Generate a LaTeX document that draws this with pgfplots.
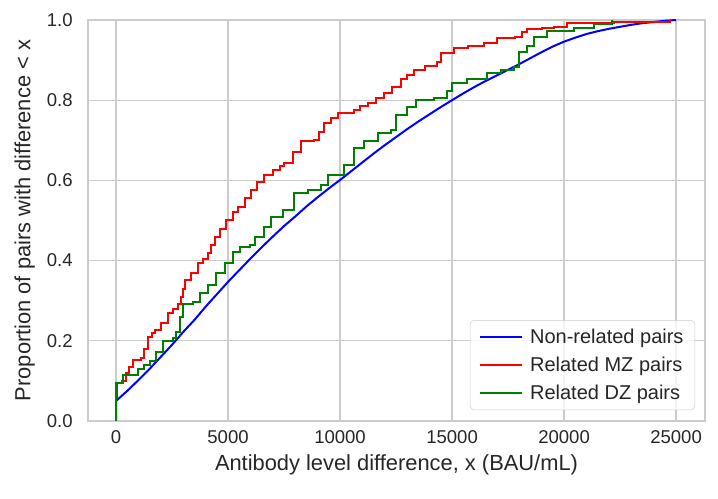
\documentclass[border=0pt]{standalone}
\usepackage{fontspec}
\setmainfont{Liberation Sans}
\usepackage{pgfplots}
\pgfplotsset{compat=1.18}

\definecolor{txt}{HTML}{262626}
\definecolor{gridc}{HTML}{CCCCCC}

\begin{document}
\begin{tikzpicture}
\useasboundingbox (-66pt,-58.5pt) rectangle (472.5pt,315.75pt);
\begin{axis}[
    scale only axis,
    width=462.75pt, height=300.75pt,
    xmin=-1250, xmax=26290,
    ymin=0, ymax=1,
    xtick={0,5000,10000,15000,20000,25000},
    ytick={0,0.2,0.4,0.6,0.8,1.0},
    scaled ticks=false,
    xticklabel style={/pgf/number format/1000 sep={}},
    yticklabel style={/pgf/number format/fixed, /pgf/number format/precision=1, /pgf/number format/fixed zerofill},
    /pgf/number format/assume math mode=true,
    major tick length=0pt,
    tick label style={font=\fontsize{13.9}{16}\selectfont, color=txt},
    xticklabel style={yshift=-4pt},
    yticklabel style={xshift=-8pt},
    label style={font=\fontsize{16.4}{19}\selectfont, color=txt},
    xlabel={Antibody level difference, x (BAU/mL)},
    ylabel={Proportion of pairs with difference < x},
    xlabel style={yshift=-1pt},
    ylabel style={yshift=2pt},
    xmajorgrids, ymajorgrids,
    grid style={gridc, line width=1pt},
    axis line style={gridc, line width=1pt},
    legend cell align=left,
    legend style={at={(0.984,0.027)}, anchor=south east, draw=gridc, rounded corners=3pt,
        fill=white, fill opacity=0.8, text opacity=1, text=txt,
        font=\fontsize{15}{18}\selectfont, row sep=4.5pt, inner xsep=6.5pt, inner ysep=4.5pt,
        /tikz/every odd column/.append style={column sep=3.5pt}},
    legend image code/.code={\draw[#1, sharp plot] (0pt,0pt) -- (31.5pt,0pt);},
]
% Non-related pairs
\addplot[blue, line width=1.5pt, sharp plot] coordinates {
(0,0) (0,0.05) (500,0.075) (1000,0.102) (1500,0.13) (2000,0.16) (2500,0.19) (3000,0.222)
(3500,0.252) (4000,0.285) (4500,0.316) (5000,0.347) (5500,0.376) (6000,0.405) (6500,0.433)
(7000,0.46) (7500,0.486) (8000,0.51) (8500,0.535) (9000,0.558) (9500,0.58) (10000,0.601)
(10500,0.623) (11000,0.645) (11500,0.667) (12000,0.688) (12500,0.708) (13000,0.728)
(13500,0.747) (14000,0.765) (14500,0.783) (15000,0.80) (15500,0.817) (16000,0.833)
(16500,0.848) (17000,0.862) (17500,0.876) (18000,0.89) (18500,0.905) (19000,0.92)
(19500,0.934) (20000,0.946) (20500,0.956) (21000,0.965) (21500,0.972) (22000,0.978)
(22500,0.983) (23000,0.988) (23500,0.992) (24000,0.995) (24500,0.998) (25000,1.0)
};
% Related MZ pairs
\addplot[red, line width=1.5pt, const plot mark left] coordinates {
(0,0) (0,0.06) (50,0.094) (250,0.10) (467,0.119) (600,0.135) (764,0.152) (1136,0.156)
(1250,0.18) (1433,0.21) (1600,0.22) (1729,0.227) (2000,0.245) (2323,0.269) (2550,0.28)
(2768,0.293) (2900,0.31) (3000,0.33) (3065,0.352) (3350,0.37) (3659,0.393) (3900,0.405) (4104,0.418)
(4250,0.44) (4400,0.46) (4650,0.48) (4920,0.501) (5200,0.52) (5440,0.534) (5750,0.555)
(6033,0.576) (6300,0.595) (6627,0.613) (7000,0.625) (7300,0.635) (7517,0.643) (7900,0.67)
(8259,0.697) (8853,0.70) (9050,0.72) (9298,0.742) (9600,0.755) (9892,0.767) (10634,0.776)
(10900,0.785) (11228,0.792) (11600,0.805) (11970,0.817) (12300,0.832) (12712,0.852)
(13000,0.862) (13304,0.875) (13800,0.885) (14343,0.896) (14491,0.917) (15085,0.929)
(15700,0.935) (16420,0.942) (17014,0.954) (17830,0.958) (18100,0.97) (18350,0.977)
(19000,0.98) (19537,0.983) (20131,0.992) (22209,0.995) (24732,1.0)
};
% Related DZ pairs
\addplot[green!50!black, line width=1.5pt, const plot mark left] coordinates {
(0,0) (0,0.094) (300,0.115) (987,0.13) (1250,0.14) (1500,0.15) (1803,0.173) (2100,0.20)
(2545,0.207) (2700,0.222) (2850,0.26) (2990,0.293) (3436,0.297) (3732,0.318) (4104,0.339) (4475,0.368)
(4846,0.393) (5217,0.422) (5514,0.434) (5960,0.438) (6182,0.459) (6627,0.485) (6924,0.509)
(7443,0.526) (7962,0.568) (8556,0.576) (9150,0.589) (9447,0.613) (10041,0.613)
(10189,0.638) (10634,0.68) (11079,0.697) (11673,0.717) (12267,0.726) (12490,0.763)
(13007,0.784) (13378,0.80) (14194,0.806) (14788,0.823) (15011,0.842) (15679,0.852)
(16569,0.867) (17163,0.876) (17756,0.883) (17979,0.921) (18350,0.935) (18647,0.958)
(19240,0.973) (20427,0.979) (21317,0.99) (22133,1.0)
};
\legend{Non-related pairs, Related MZ pairs, Related DZ pairs}
\end{axis}
\end{tikzpicture}
\end{document}
